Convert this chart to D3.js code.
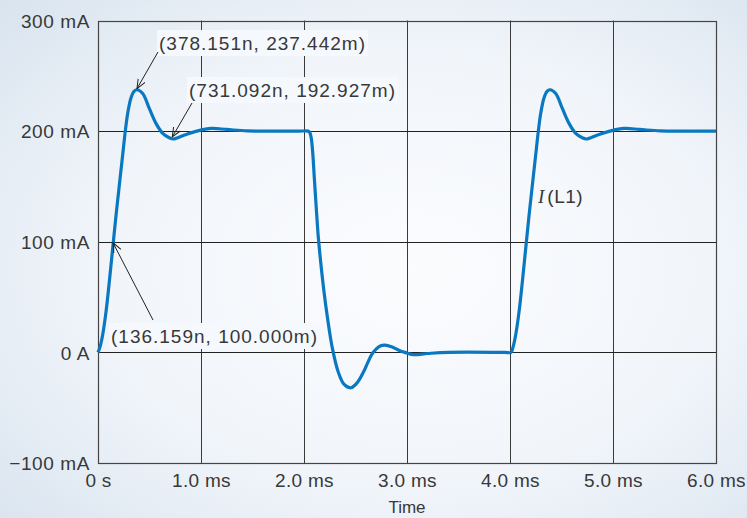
<!DOCTYPE html>
<html>
<head>
<meta charset="utf-8">
<script src="https://cdn.jsdelivr.net/npm/d3@7"></script>
<style>
  html, body { margin: 0; padding: 0; background: #eef3f8; }
  svg { display: block; }
  text { font-family: "Liberation Sans", Arial, sans-serif; fill: #383838; }
</style>
</head>
<body>
<div id="chart"></div>
<script>
// values (time in ms, current in mA)
var timeMs = [0, 0.02, 0.045, 0.078, 0.11, 0.149, 0.181, 0.214, 0.246, 0.265, 0.288, 0.32, 0.35, 0.378, 0.434, 0.498, 0.563, 0.628, 0.692, 0.731, 0.84, 0.96, 1.1, 1.25, 1.45, 1.7, 1.95,
              2.04, 2.055, 2.07, 2.085, 2.1, 2.123, 2.14, 2.19, 2.23, 2.275, 2.33, 2.39, 2.456, 2.52, 2.576, 2.62, 2.657, 2.70, 2.74, 2.786, 2.85, 2.92, 2.98, 3.06, 3.2, 3.4, 3.95,
              4.01, 4.03, 4.055, 4.088, 4.12, 4.159, 4.191, 4.224, 4.256, 4.275, 4.298, 4.33, 4.36, 4.388, 4.444, 4.508, 4.573, 4.638, 4.702, 4.741, 4.85, 4.97, 5.11, 5.26, 5.46, 5.7, 6.0];
var currentMa = [0, 5, 15.7, 36.8, 64, 100, 129, 157, 184, 200, 216, 230, 236, 237.4, 234, 220.5, 207, 198, 194, 192.9, 196.5, 200, 202.4, 201.5, 200.2, 200, 200,
                 200, 199, 194, 180, 158, 125, 103, 58, 30, 4, -17, -29, -32, -27, -18, -9, -2, 3, 5.8, 6.5, 5, 2, 0, -2, -1, 0, 0,
                 0, 5, 15.7, 36.8, 64, 100, 129, 157, 184, 200, 216, 230, 236, 237.4, 234, 220.5, 207, 198, 194, 192.9, 196.5, 200, 202.4, 201.5, 200.2, 200, 200];

var xTicks = [0, 1, 2, 3, 4, 5, 6];
var xTickLabels = ['0 s', '1.0 ms', '2.0 ms', '3.0 ms', '4.0 ms', '5.0 ms', '6.0 ms'];
var yTicks = [-100, 0, 100, 200, 300];
var yTickLabels = ['\u2212100 mA', '0 A', '100 mA', '200 mA', '300 mA'];

// cursor readouts
var markTimes = [0.378, 0.731, 0.136];
var markValues = [237.442, 192.927, 100];
var markLabels = ['(378.151n, 237.442m)', '(731.092n, 192.927m)', '(136.159n, 100.000m)'];

var width = 747, height = 518,
    margin = {top: 20.5, left: 98, right: 31, bottom: 55};

var svg = d3.select('#chart').append('svg')
    .attr('width', width).attr('height', height);

var defs = svg.append('defs');
var grad = defs.append('radialGradient').attr('id', 'bg')
    .attr('cx', '55%').attr('cy', '52%').attr('r', '75%');
grad.append('stop').attr('offset', '0%').attr('stop-color', '#fbfcfe');
grad.append('stop').attr('offset', '55%').attr('stop-color', '#f1f5fa');
grad.append('stop').attr('offset', '100%').attr('stop-color', '#d9e4ef');

defs.append('marker').attr('id', 'arrow')
    .attr('viewBox', '0 0 10 10').attr('refX', 9.5).attr('refY', 5)
    .attr('markerWidth', 10).attr('markerHeight', 10)
    .attr('markerUnits', 'userSpaceOnUse')
    .attr('orient', 'auto')
  .append('path')
    .attr('d', 'M0,1 L9.5,5 L0,9')
    .attr('fill', 'none').attr('stroke', '#222').attr('stroke-width', 1);

svg.append('rect').attr('width', width).attr('height', height).attr('fill', 'url(#bg)');

var x = d3.scaleLinear().domain([0, 6]).range([margin.left, width - margin.right]);
var y = d3.scaleLinear().domain([-100, 300]).range([height - margin.bottom, margin.top]);

// grid
var grid = svg.append('g').attr('class', 'grid');
grid.selectAll('.vgrid').data(xTicks.slice(1, -1)).enter().append('line')
    .attr('x1', d => Math.round(x(d)) + 0.5).attr('x2', d => Math.round(x(d)) + 0.5)
    .attr('y1', y(300)).attr('y2', y(-100))
    .attr('stroke', '#3a3a3a').attr('stroke-width', 1);
grid.selectAll('.hgrid').data(yTicks.slice(1, -1)).enter().append('line')
    .attr('y1', d => Math.round(y(d)) + 0.5).attr('y2', d => Math.round(y(d)) + 0.5)
    .attr('x1', x(0)).attr('x2', x(6))
    .attr('stroke', '#222').attr('stroke-width', 1);

svg.append('rect')
    .attr('x', Math.round(x(0)) + 0.5).attr('y', Math.round(y(300)) + 0.5)
    .attr('width', Math.round(x(6)) - Math.round(x(0)))
    .attr('height', Math.round(y(-100)) - Math.round(y(300)))
    .attr('fill', 'none').attr('stroke', '#444').attr('stroke-width', 1.2);

// axes (labels only, grid drawn above)
var xAxis = d3.axisBottom(x).tickValues(xTicks).tickFormat((d, i) => xTickLabels[i]).tickSize(0).tickPadding(0);
var yAxis = d3.axisLeft(y).tickValues(yTicks).tickFormat((d, i) => yTickLabels[i]).tickSize(0).tickPadding(8);

svg.append('g').attr('transform', `translate(0,${y(-100)})`).call(xAxis)
  .call(g => g.select('.domain').remove())
  .selectAll('text').attr('dy', null).attr('y', 24)
    .style('font-size', '19px').style('letter-spacing', '0.3px').attr('fill', '#383838');

svg.append('g').attr('transform', `translate(${x(0)},0)`).call(yAxis)
  .call(g => g.select('.domain').remove())
  .selectAll('text').attr('dy', '0.36em')
    .style('font-size', '19px').style('letter-spacing', '0.6px').attr('fill', '#383838');

svg.append('text').attr('x', (x(0) + x(6)) / 2).attr('y', 513)
    .attr('text-anchor', 'middle').style('font-size', '17px').text('Time');

// current trace
var line = d3.line()
    .curve(d3.curveCatmullRom.alpha(0.5))
    .x((d, i) => x(timeMs[i]))
    .y(d => y(d));

svg.append('path').datum(currentMa)
    .attr('d', line)
    .attr('fill', 'none').attr('stroke', '#0a78c0').attr('stroke-width', 3.2)
    .attr('stroke-linejoin', 'round');

// annotation layout: text anchor, arrow start, arrow tip offset from point
var markLayout = [
  {tx: 159, ty: 50, ax: 158, ay: 52, dx: 0, dy: -1},
  {tx: 189, ty: 97, ax: 192, ay: 103, dx: -1, dy: -2},
  {tx: 111, ty: 343, ax: 153, ay: 320, dx: 1, dy: 1}
];

var marks = svg.append('g').attr('class', 'marks');
markLabels.forEach(function(label, i) {
  var L = markLayout[i];
  var t = marks.append('text').attr('x', L.tx).attr('y', L.ty)
      .style('font-size', '19px').style('letter-spacing', '1px').text(label);
  var bb = t.node().getBBox();
  marks.insert('rect', 'text')
      .attr('x', bb.x - 2).attr('y', L.ty - 20)
      .attr('width', bb.width + 4).attr('height', 26)
      .attr('fill', '#f5f8fc');
  marks.append('line')
      .attr('x1', L.ax).attr('y1', L.ay)
      .attr('x2', x(markTimes[i]) + L.dx).attr('y2', y(markValues[i]) + L.dy)
      .attr('stroke', '#222').attr('stroke-width', 1)
      .attr('marker-end', 'url(#arrow)');
});

// trace label
var traceLabel = svg.append('text').attr('x', 538).attr('y', 203).style('font-size', '19px');
traceLabel.append('tspan').style('font-family', '"Liberation Serif", serif').style('font-style', 'italic').text('I');
traceLabel.append('tspan').attr('dx', 3).style('letter-spacing', '0.5px').text('(L1)');
</script>
</body>
</html>
